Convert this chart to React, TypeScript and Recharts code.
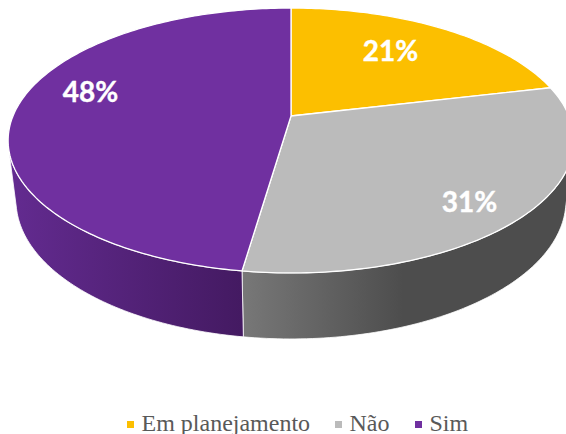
import React from 'react';
import { PieChart, Pie, Legend } from 'recharts';

const categories = ['Em planejamento', 'Não', 'Sim'];
const shares = [21.3, 31, 47.7];
const faceColors = ['#FCBF00', '#BBBBBB', '#7030A0'];
const wallFills = ['#B58900', 'url(#wallGray)', 'url(#wallPurple)'];
const labelRadii = [0.63, 0.785, 0.73];
const labelLift = [-8, 10, -18];

const tableData = categories.map((name, i) => ({ name, value: shares[i], fill: faceColors[i] }));

// perspective of the disc, as ratios of the pie radius
const TILT = 0.1849;
const UP = 106.5 / 278;
const CENTER_Y = 116;
const rimMidY = 140;

function project(cx: number, cy: number, r: number, deg: number, frac = 1) {
  const a = (deg * Math.PI) / 180;
  const u = Math.cos(a) * frac;
  const v = Math.sin(a) * frac;
  const w = 1 + TILT * v;
  return { x: cx + (r * u) / w, y: (cy - r * UP * v) / w };
}

function sink(cx: number, p: { x: number; y: number }) {
  return { x: cx + (p.x - cx) * 0.972, y: rimMidY + 60 + (p.y - rimMidY) * 1.045 };
}

const toPath = (pts: { x: number; y: number }[]) =>
  pts.map((p, i) => `${i ? 'L' : 'M'}${p.x.toFixed(2)},${p.y.toFixed(2)}`).join(' ');

function Slice(props: any) {
  const { cx, cy, outerRadius, startAngle, endAngle, fill, index } = props;
  const n = Math.max(2, Math.ceil(Math.abs(endAngle - startAngle)));
  const arc: { x: number; y: number }[] = [];
  for (let i = 0; i <= n; i++) {
    arc.push(project(cx, cy, outerRadius, startAngle + ((endAngle - startAngle) * i) / n));
  }
  const front = arc.filter((p) => p.y >= rimMidY + 6);
  const wall =
    front.length > 1
      ? toPath(front) + ' ' + toPath([...front].reverse().map((p) => sink(cx, p))).replace('M', 'L') + ' Z'
      : null;
  const face = `M${cx},${cy} ` + toPath(arc).replace('M', 'L') + ' Z';
  return (
    <g>
      {wall && <path d={wall} fill={wallFills[index]} stroke="#ffffff" strokeWidth={0.8} />}
      <path d={face} fill={fill} stroke="#ffffff" strokeWidth={1.3} strokeLinejoin="round" />
    </g>
  );
}

function SliceLabel(props: any) {
  const { cx, cy, outerRadius, midAngle, value, index } = props;
  const p = project(cx, cy, outerRadius, midAngle, labelRadii[index]);
  return (
    <text
      x={p.x}
      y={p.y + labelLift[index]}
      fill="#ffffff"
      stroke="#ffffff"
      strokeWidth={0.4}
      textAnchor="middle"
      dominantBaseline="central"
      style={{ fontFamily: 'Lato', fontWeight: 700, fontSize: 28 }}
    >
      {`${Math.round(value)}%`}
    </text>
  );
}

const legendStarts = [127, 335, 415];

function LegendRow(props: any) {
  const items = props.payload || [];
  return (
    <div style={{ position: 'relative', width: 566, height: 40 }}>
      {items.map((item: any, i: number) => (
        <React.Fragment key={item.value}>
          <span
            style={{
              position: 'absolute',
              left: legendStarts[i],
              top: 27,
              width: 7,
              height: 7,
              background: item.color,
            }}
          />
          <span
            style={{
              position: 'absolute',
              left: legendStarts[i] + 14.5,
              top: 16,
              fontFamily: '"Liberation Serif"',
              fontSize: 24,
              lineHeight: '27px',
              color: '#595959',
              whiteSpace: 'nowrap',
            }}
          >
            {item.value}
          </span>
        </React.Fragment>
      ))}
    </div>
  );
}

export default function App() {
  return (
    <div style={{ position: 'fixed', left: 0, top: 0, width: 566, height: 434, overflow: 'hidden', background: '#fff' }}>
      <PieChart width={566} height={434} margin={{ top: 0, right: 0, bottom: 0, left: 0 }}>
        <defs>
          <linearGradient id="wallGray" gradientUnits="userSpaceOnUse" x1={241} y1={0} x2={566} y2={0}>
            <stop offset="0" stopColor="#787878" />
            <stop offset="0.5" stopColor="#4D4D4D" />
            <stop offset="1" stopColor="#4D4D4D" />
          </linearGradient>
          <linearGradient id="wallPurple" gradientUnits="userSpaceOnUse" x1={10} y1={0} x2={241} y2={0}>
            <stop offset="0" stopColor="#632B90" />
            <stop offset="1" stopColor="#441A62" />
          </linearGradient>
        </defs>
        <Pie
          data={tableData}
          dataKey="value"
          nameKey="name"
          cx={291}
          cy={CENTER_Y}
          innerRadius={0}
          outerRadius={278}
          startAngle={90}
          endAngle={-270}
          paddingAngle={0}
          stroke="none"
          isAnimationActive={false}
          shape={Slice}
          activeShape={Slice}
          inactiveShape={Slice}
          label={SliceLabel}
          labelLine={false}
          rootTabIndex={-1}
        />
        <Legend
          content={LegendRow}
          wrapperStyle={{ position: 'absolute', left: 0, top: 394, width: 566, height: 40 }}
        />
      </PieChart>
    </div>
  );
}
